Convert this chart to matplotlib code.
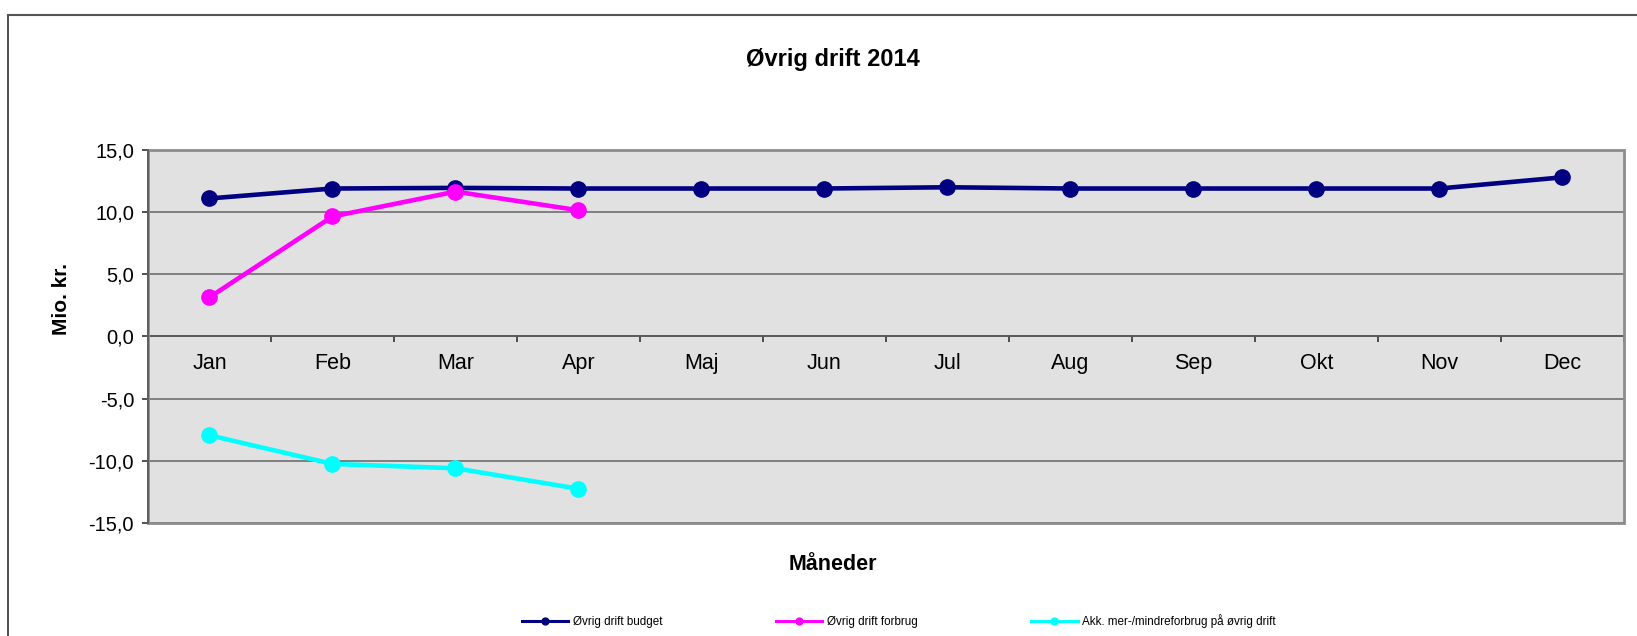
import matplotlib
matplotlib.use("Agg")
import matplotlib.pyplot as plt
from matplotlib.lines import Line2D
from matplotlib.patches import Rectangle
from matplotlib.ticker import FuncFormatter, MultipleLocator

plt.rcParams['font.family'] = ['Liberation Sans', 'DejaVu Sans']

months = ["Jan", "Feb", "Mar", "Apr", "Maj", "Jun",
          "Jul", "Aug", "Sep", "Okt", "Nov", "Dec"]
budget = [11.1, 11.9, 11.95, 11.9, 11.9, 11.9, 12.0, 11.9, 11.9, 11.9, 11.9, 12.8]
forbrug = [3.15, 9.65, 11.65, 10.15]
akk = [-7.95, -10.25, -10.6, -12.25]

fig = plt.figure(figsize=(16.37, 6.36), dpi=100)
ax = fig.add_axes([0.0904, 0.1777, 0.9016, 0.5865])
ax.set_facecolor("#e1e1e1")

x_all = list(range(len(months)))
ax.plot(x_all, budget, color="#000080", lw=3.3, marker="o", ms=11,
        label="Øvrig drift budget", zorder=4)
ax.plot(x_all[:len(forbrug)], forbrug, color="#ff00ff", lw=3.3, marker="o", ms=11,
        label="Øvrig drift forbrug", zorder=5)
ax.plot(x_all[:len(akk)], akk, color="#00ffff", lw=3.3, marker="o", ms=11,
        label="Akk. mer-/mindreforbrug på øvrig drift", zorder=5)

ax.set_xlim(-0.5, 11.5)
ax.set_ylim(-15, 15)
ax.yaxis.set_major_locator(MultipleLocator(5))
ax.yaxis.set_major_formatter(FuncFormatter(lambda v, p: f"{v:.1f}".replace(".", ",")))
ax.grid(axis="y", color="#6e6e6e", lw=1.2, zorder=1)
ax.set_axisbelow(True)

# category axis crosses at zero
for s in ["top", "right", "left"]:
    ax.spines[s].set_visible(False)
ax.spines["bottom"].set_position(("data", 0))
ax.spines["bottom"].set_color("#555555")
ax.spines["bottom"].set_linewidth(1.2)
ax.set_xticks(x_all)
ax.set_xticklabels(months)
ax.set_xticks([k - 0.5 for k in range(13)], minor=True)
ax.tick_params(axis="x", which="major", length=0, pad=12, labelsize=15.5)
ax.tick_params(axis="x", which="minor", length=4, width=1.2, color="#333333")
ax.tick_params(axis="y", length=4, width=1.2, color="#333333", pad=6, labelsize=14.5)

ax.add_patch(Rectangle((0, 0), 1, 1, transform=ax.transAxes, fill=False,
                       edgecolor="#8c8c8c", lw=2, zorder=6, clip_on=False))
ax.add_artist(Line2D([0, 0], [0, 1], transform=ax.transAxes, color="#555555",
                     lw=1.2, zorder=7, clip_on=False))

ax.set_ylabel("Mio. kr.", fontsize=15, fontweight="bold")
ax.yaxis.set_label_coords(-0.052, 0.601)

fig.text(0.509, 0.907, "Øvrig drift 2014", ha="center", va="center",
         fontsize=17, fontweight="bold")
fig.text(0.5086, 0.112, "Måneder", ha="center", va="center",
         fontsize=15.5, fontweight="bold")

leg = fig.legend(loc="center", bbox_to_anchor=(0.549, 0.024), ncol=3, frameon=False,
                 fontsize=8.4, handlelength=4, columnspacing=9.7, markerscale=0.45,
                 handletextpad=0.4)
for h in leg.legend_handles:
    h.set_linewidth(2.2)

# outer chart border (left and top)
fig.add_artist(Line2D([0.0049, 0.0049], [0.0, 0.976], transform=fig.transFigure,
                      color="#333333", lw=1.2))
fig.add_artist(Line2D([0.0049, 1.0], [0.976, 0.976], transform=fig.transFigure,
                      color="#555555", lw=1.5))

fig.savefig("out.png", dpi=100)
